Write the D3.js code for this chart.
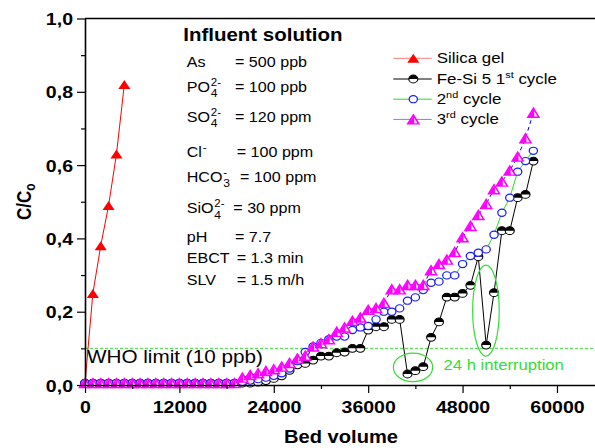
<!DOCTYPE html>
<html>
<head>
<meta charset="utf-8">
<script src="https://cdn.jsdelivr.net/npm/d3@7"></script>
<style>
  body { margin: 0; background: #fff; }
  svg text { font-family: "Liberation Sans", Arial, sans-serif; }
</style>
</head>
<body>
<div id="chart"></div>
<script>
// breakthrough curves, C/Co vs bed volume

var silicaBV = [0, 1000, 2000, 3000, 4000, 5000];
var silicaC  = [0.005, 0.25, 0.38, 0.49, 0.63, 0.82];

var cycleBV = [0, 1000, 2000, 3000, 4000, 5000, 6000, 7000, 8000, 9000,
  10000, 11000, 12000, 13000, 14000, 15000, 16000, 17000, 18000, 19000,
  20000, 21000, 22000, 23000, 24000, 25000, 26000, 27000, 28000, 29000,
  30000, 31000, 32000, 33000, 34000, 35000, 36000, 37000, 38000, 39000,
  40000, 41000, 42000, 43000, 44000, 45000, 46000, 47000, 48000, 49000,
  50000, 51000, 52000, 53000, 54000, 55000, 56000, 57000];

var cycle1C = [0.005, 0.005, 0.005, 0.005, 0.005, 0.005, 0.005, 0.005, 0.005, 0.005,
  0.005, 0.005, 0.005, 0.005, 0.005, 0.005, 0.005, 0.005, 0.005, 0.005,
  0.005, 0.005, 0.008, 0.012, 0.018, 0.025, 0.04, 0.055, 0.059, 0.068,
  0.079, 0.079, 0.088, 0.09, 0.1, 0.1, 0.15, 0.159, 0.159, 0.179,
  0.179, 0.03, 0.039, 0.05, 0.13, 0.172, 0.24, 0.24, 0.25, 0.272,
  0.35, 0.109, 0.252, 0.421, 0.421, 0.511, 0.52, 0.611];

var cycle2C = [0.005, 0.005, 0.005, 0.005, 0.005, 0.005, 0.005, 0.005, 0.005, 0.005,
  0.005, 0.005, 0.005, 0.005, 0.005, 0.005, 0.005, 0.005, 0.005, 0.005,
  0.008, 0.012, 0.016, 0.02, 0.025, 0.032, 0.045, 0.065, 0.09, 0.105,
  0.115, 0.125, 0.132, 0.132, 0.15, 0.157, 0.161, 0.179, 0.2, 0.2,
  0.209, 0.23, 0.239, 0.259, 0.279, 0.282, 0.299, 0.299, 0.33, 0.352,
  0.361, 0.37, 0.41, 0.47, 0.511, 0.582, 0.611, 0.639];

var cycle3C = [0.005, 0.005, 0.005, 0.005, 0.005, 0.005, 0.005, 0.005, 0.005, 0.005,
  0.005, 0.005, 0.005, 0.005, 0.005, 0.005, 0.005, 0.005, 0.005, 0.005,
  0.02, 0.027, 0.032, 0.038, 0.043, 0.05, 0.06, 0.072, 0.08, 0.105,
  0.114, 0.125, 0.145, 0.157, 0.175, 0.184, 0.205, 0.21, 0.224, 0.261,
  0.261, 0.273, 0.273, 0.273, 0.313, 0.33, 0.342, 0.363, 0.403, 0.434,
  0.464, 0.494, 0.534, 0.555, 0.585, 0.623, 0.673, 0.743];

var xTicks = [0, 12000, 24000, 36000, 48000, 60000];
var xMinor = [6000, 18000, 30000, 42000, 54000];
var yTicks = [0, 0.2, 0.4, 0.6, 0.8, 1.0];
var yMinor = [0.1, 0.3, 0.5, 0.7, 0.9];

var whoLimit = 0.1;

var legendNames = ["Silica gel", "Fe-Si 5 1", "2", "3"];
var legendSups  = ["", "st", "nd", "rd"];
var legendTails = ["", " cycle", " cycle", " cycle"];

var influentNames  = ["As", "PO", "SO", "Cl", "HCO", "SiO", "pH", "EBCT", "SLV"];
var influentSubs   = ["", "4", "4", "", "3", "4", "", "", ""];
var influentSups   = ["", "2-", "2-", "-", "-", "2-", "", "", ""];
var influentValues = ["= 500 ppb", "= 100 ppb", "= 120 ppm", "= 100 ppm", "= 100 ppm",
                      "= 30 ppm", "= 7.7", "= 1.3 min", "= 1.5 m/h"];

// ellipses round the interruption points: centre BV, centre C, half width BV, half height C
var ringBV = [41700, 50970];
var ringC  = [0.048, 0.203];
var ringRX = [2500, 1690];
var ringRY = [0.039, 0.124];

var W = 595, H = 448;
var SX = 1.15;   // text in the picture is a bit wide
var green = "#33dd33";

var svg = d3.select("#chart").append("svg").attr("width", W).attr("height", H);

var x = d3.scaleLinear().domain([0, 65000]).range([85, 596.3]);
var y = d3.scaleLinear().domain([0, 1]).range([385, 18.5]);

function label(g, px, py, str, size, o) {
  o = o || {};
  return g.append("text")
    .attr("transform", "translate(" + px + "," + py + ") scale(" + SX + ",1)")
    .attr("font-size", size)
    .attr("font-weight", o.bold ? "bold" : "normal")
    .attr("text-anchor", o.anchor || "start")
    .attr("fill", o.color || "#000")
    .text(str);
}

// ---- markers
function triPts(b, h) {
  return [[0, -h / 2], [b / 2, h / 2], [-b / 2, h / 2]];
}
function drawMarker(g, kind) {
  if (kind == "silica") {
    g.append("polygon").attr("points", triPts(10.5, 9).join(" ")).attr("fill", "#ff0000");
  } else if (kind == "c1") {
    var r = 3.9;
    g.append("circle").attr("r", r).attr("fill", "#fff").attr("stroke", "#000").attr("stroke-width", 1);
    g.append("path").attr("d", "M" + (-r) + ",0A" + r + "," + r + " 0 0 1 " + r + ",0Z").attr("fill", "#000");
  } else if (kind == "c2") {
    g.append("circle").attr("r", 3.6).attr("fill", "#fff").attr("stroke", "#1a1aff").attr("stroke-width", 1.1);
  } else {
    var b = 9.6, h = 9;
    g.append("polygon").attr("points", triPts(b, h).join(" "))
      .attr("fill", "#fff").attr("stroke", "#ff00ff").attr("stroke-width", 1.4);
    g.append("polygon").attr("points", [[0.8, -h / 2], [0.8, h / 2], [-b / 2, h / 2]].join(" ")).attr("fill", "#ff00ff");
  }
}

var series = [
  {kind: "silica", bv: silicaBV, c: silicaC, stroke: "#ff0000", dash: null, legendStroke: "#ff7a7a"},
  {kind: "c1", bv: cycleBV, c: cycle1C, stroke: "#000", dash: null, legendStroke: "#000"},
  {kind: "c2", bv: cycleBV, c: cycle2C, stroke: "#22dd22", dash: null, legendStroke: "#22dd22"},
  {kind: "c3", bv: cycleBV, c: cycle3C, stroke: "#0000ff", dash: "4,3", legendStroke: "#7a7aff"}
];

// ---- WHO limit
svg.append("line")
  .attr("x1", x(0)).attr("x2", x(65000))
  .attr("y1", y(whoLimit)).attr("y2", y(whoLimit))
  .attr("stroke", green).attr("stroke-width", 1).attr("stroke-dasharray", "3,2");

// ---- series
var line = d3.line().x(function(d){return x(d[0]);}).y(function(d){return y(d[1]);});
series.forEach(function(s) {
  var pts = s.bv.map(function(v, i){ return [v, s.c[i]]; });
  svg.append("path").attr("d", line(pts)).attr("fill", "none")
    .attr("stroke", s.stroke).attr("stroke-width", 1)
    .attr("stroke-dasharray", s.dash);
  var mg = svg.append("g");
  pts.forEach(function(p) {
    var g = mg.append("g").attr("transform", "translate(" + x(p[0]) + "," + y(p[1]) + ") scale(" + SX + ",1)");
    drawMarker(g, s.kind);
  });
});

// ---- interruption rings
ringBV.forEach(function(v, i) {
  svg.append("ellipse")
    .attr("cx", x(v)).attr("cy", y(ringC[i]))
    .attr("rx", x(ringRX[i]) - x(0)).attr("ry", y(0) - y(ringRY[i]))
    .attr("fill", "none").attr("stroke", green).attr("stroke-width", 1.2);
});

label(svg, 87, 363, "WHO limit (10 ppb)", 18);
label(svg, 443.5, 370, "24 h interruption", 14.5, {color: green});

// ---- axes
var fmtY = function(d){ return d3.format(".1f")(d).replace(".", ","); };

var xAxis = svg.append("g").attr("transform", "translate(0," + y(0) + ")")
  .call(d3.axisBottom(x).tickValues(xTicks).tickSize(8).tickSizeOuter(0).tickFormat(d3.format("d")));
svg.append("g").attr("transform", "translate(0," + y(0) + ")")
  .call(d3.axisBottom(x).tickValues(xMinor).tickSize(4).tickFormat(""))
  .select(".domain").remove();

var yAxis = svg.append("g").attr("transform", "translate(" + x(0) + ",0)")
  .call(d3.axisLeft(y).tickValues(yTicks).tickSize(8).tickSizeOuter(0).tickFormat(fmtY));
svg.append("g").attr("transform", "translate(" + x(0) + ",0)")
  .call(d3.axisLeft(y).tickValues(yMinor).tickSize(4).tickFormat(""))
  .select(".domain").remove();

svg.selectAll(".domain").attr("stroke-width", 1.6);
svg.selectAll(".tick line").attr("stroke-width", 1.2);

xAxis.selectAll(".tick text")
  .attr("y", 27.7).attr("dy", null)
  .attr("transform", "scale(" + SX + ",1)")
  .attr("font-size", 17).attr("font-weight", "bold").attr("fill", "#000");
yAxis.selectAll(".tick text")
  .attr("x", 0).attr("dy", "0.36em")
  .attr("transform", "translate(-12,0) scale(" + SX + ",1)")
  .attr("font-size", 17).attr("font-weight", "bold").attr("fill", "#000");
xAxis.attr("font-family", null);
yAxis.attr("font-family", null);

// top frame
svg.append("line").attr("x1", x(0)).attr("x2", x(65000))
  .attr("y1", y(1)).attr("y2", y(1)).attr("stroke", "#000").attr("stroke-width", 1.4);

// axis titles
label(svg, 341, 442.7, "Bed volume", 17.5, {bold: true, anchor: "middle"});
var yt = svg.append("text")
  .attr("transform", "translate(30.5,220) rotate(-90) scale(1," + SX + ")")
  .attr("font-size", 17).attr("font-weight", "bold");
yt.append("tspan").text("C/C");
yt.append("tspan").attr("dy", 4).attr("font-size", 12).text("o");

// ---- legend
var legRowY = [58.3, 79, 99.2, 119.4];
series.forEach(function(s, i) {
  var ly = legRowY[i];
  svg.append("line").attr("x1", 393.3).attr("x2", 431.7).attr("y1", ly).attr("y2", ly)
    .attr("stroke", s.legendStroke).attr("stroke-width", 1);
  var g = svg.append("g").attr("transform", "translate(413.3," + ly + ") scale(" + SX + ",1)");
  drawMarker(g, s.kind);
  var t = label(svg, 436.7, ly + 5, "", 14.7);
  t.append("tspan").text(legendNames[i]);
  if (legendSups[i]) {
    t.append("tspan").attr("dy", -6).attr("font-size", 9.5).text(legendSups[i]);
    t.append("tspan").attr("dy", 6).text(legendTails[i]);
  }
});

// ---- influent solution block
label(svg, 183.3, 40.7, "Influent solution", 17.8, {bold: true});
var rowBase = [66.7, 91.7, 121.7, 156.7, 181.7, 213.3, 241.7, 262.7, 285];
var eqX     = [235, 235, 235, 236.7, 240, 233.3, 235, 236.7, 236.7];
influentNames.forEach(function(n, i) {
  var t = label(svg, 186.7, rowBase[i], n, 14);
  var w = t.node().getComputedTextLength() * SX + 186.7 + 0.8;
  if (influentSups[i]) label(svg, w, rowBase[i] - 6, influentSups[i], 10);
  if (influentSubs[i]) label(svg, w, rowBase[i] + 5.6, influentSubs[i], 10.5);
  label(svg, eqX[i], rowBase[i], influentValues[i], 14);
});
</script>
</body>
</html>
